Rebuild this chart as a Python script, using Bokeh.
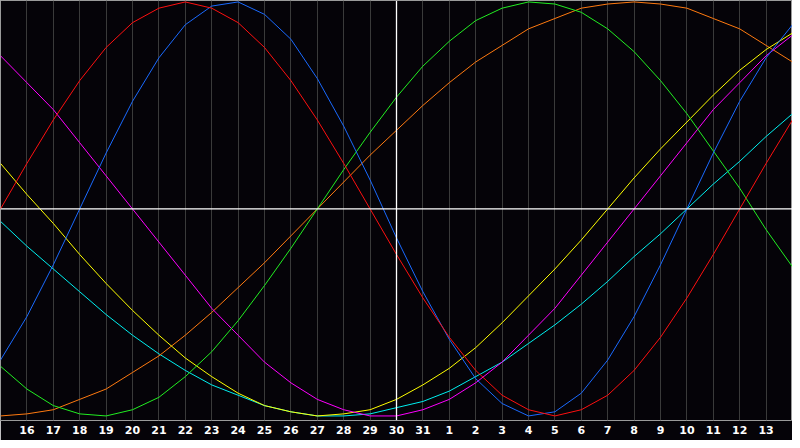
from bokeh.plotting import figure
from bokeh.models import Range1d, FixedTicker, Span
from bokeh.embed import file_html
from bokeh.resources import INLINE

# Days shown on the chart (first and last fall on the frame edges, unlabelled)
days = ["15", "16", "17", "18", "19", "20", "21", "22", "23", "24", "25", "26",
        "27", "28", "29", "30", "31", "1", "2", "3", "4", "5", "6", "7", "8",
        "9", "10", "11", "12", "13", "14"]
today = "30"

# Cycle values (percent) for each day above
physical = [-73, -52, -27, 0, 27, 52, 73, 89, 98, 100, 94, 82, 63, 40, 14, -14,
            -40, -63, -82, -94, -100, -98, -89, -73, -52, -27, 0, 27, 52, 73, 89]
emotional = [0, 22, 43, 62, 78, 90, 97, 100, 97, 90, 78, 62, 43, 22, 0, -22,
             -43, -62, -78, -90, -97, -100, -97, -90, -78, -62, -43, -22, 0, 22, 43]
intellectual = [-76, -87, -95, -99, -100, -97, -91, -81, -69, -54, -37, -19, 0,
                19, 37, 54, 69, 81, 91, 97, 100, 99, 95, 87, 76, 62, 46, 28, 10, -10, -28]
intuitive = [74, 61, 48, 32, 16, 0, -16, -32, -48, -61, -74, -84, -92, -97, -100,
             -100, -97, -92, -84, -74, -61, -48, -32, -16, 0, 16, 32, 48, 61, 74, 84]
aesthetic = [22, 7, -7, -22, -36, -49, -61, -72, -81, -89, -95, -98, -100, -99,
             -97, -92, -85, -77, -67, -55, -42, -29, -15, 0, 15, 29, 42, 55, 67, 77, 85]
awareness = [-100, -99, -97, -92, -87, -79, -71, -61, -50, -38, -26, -13, 0, 13,
             26, 38, 50, 61, 71, 79, 87, 92, 97, 99, 100, 99, 97, 92, 87, 79, 71]
spiritual = [-6, -18, -29, -40, -51, -61, -70, -78, -85, -90, -95, -98, -100,
             -100, -99, -96, -93, -88, -81, -74, -65, -56, -46, -35, -23, -12, 0,
             12, 23, 35, 46]

series = [
    (spiritual, "#00f0f0"),
    (awareness, "#ff7a10"),
    (aesthetic, "#ffff00"),
    (intuitive, "#ff00ff"),
    (intellectual, "#22ee22"),
    (physical, "#1a6aff"),
    (emotional, "#ff1010"),
]

BG = "#050308"
xs = list(range(len(days)))

p = figure(width=792, height=440, output_backend="svg", toolbar_location=None,
           x_range=Range1d(0, len(days) - 1), y_range=Range1d(-102.2, 100.7),
           y_axis_location=None, min_border_left=0, min_border_right=0,
           min_border_top=0, min_border_bottom=20)
p.background_fill_color = BG
p.border_fill_color = BG
p.outline_line_color = "#9a9a9a"
p.outline_line_width = 1

label_ticks = xs[1:-1]
p.xaxis.ticker = FixedTicker(ticks=label_ticks)
p.xaxis.major_label_overrides = {i: days[i] for i in label_ticks}
p.xaxis.axis_line_color = None
p.xaxis.major_tick_line_color = None
p.xaxis.minor_tick_line_color = None
p.xaxis.major_tick_out = 0
p.xaxis.major_tick_in = 0
p.xaxis.major_label_standoff = 5
p.xaxis.major_label_text_color = "white"
p.xaxis.major_label_text_font = "DejaVu Sans"
p.xaxis.major_label_text_font_style = "bold"
p.xaxis.major_label_text_font_size = "11px"

p.xgrid.grid_line_color = "#3a3a3a"
p.xgrid.grid_line_width = 1
p.ygrid.grid_line_color = None

p.add_layout(Span(location=0, dimension="width", line_color="white", line_width=1.3))
p.add_layout(Span(location=days.index(today), dimension="height",
                  line_color="white", line_width=1.3))

for vals, col in series:
    p.line(xs, vals, line_color=col, line_width=1)

open("out.html", "w").write(file_html(p, INLINE))
